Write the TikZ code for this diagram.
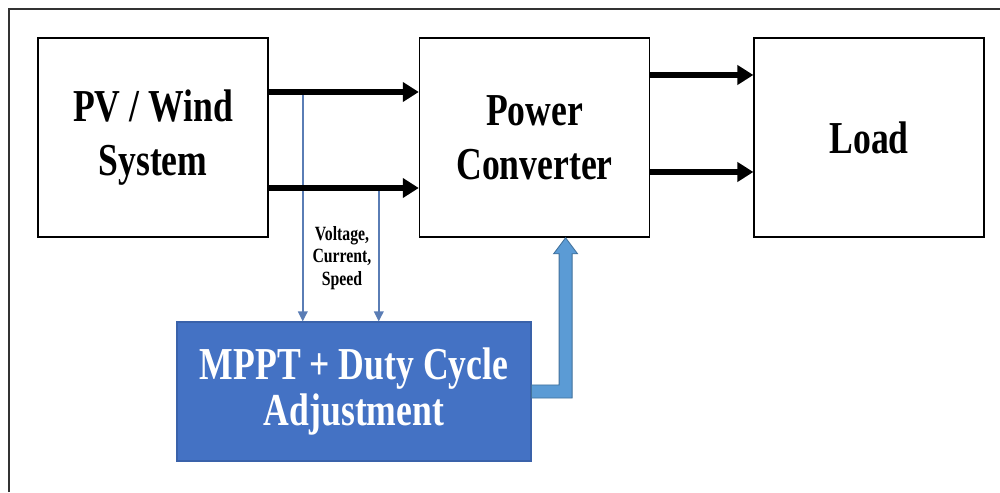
\documentclass[tikz,border=0pt]{standalone}
\usepackage{fontspec}
\setmainfont{Liberation Serif}[FakeStretch=0.78]
\usetikzlibrary{arrows.meta, positioning, calc}
\definecolor{mpptBlue}{HTML}{4472C4}
\definecolor{mpptEdge}{HTML}{3A62AA}
\definecolor{tapBlue}{HTML}{5A7DB5}
\definecolor{feedFill}{HTML}{5B9BD5}
\definecolor{feedEdge}{HTML}{41719C}
\definecolor{frameGray}{HTML}{333333}
\tikzset{
  block/.style={draw=black, line width=0.9pt, fill=white, align=center,
               minimum width=4.6cm, minimum height=3.98cm, font=\fontsize{26}{30.6}\selectfont\bfseries},
  ctrl/.style={draw=mpptEdge, line width=0.6pt, fill=mpptBlue, text=white, align=center,
               minimum width=7.08cm, minimum height=2.78cm, font=\fontsize{26}{26.7}\selectfont\bfseries},
  power/.style={-{Triangle[length=0.32cm, width=0.38cm]}, line width=3.3pt},
  sense/.style={-{Triangle[length=0.2cm, width=0.19cm]}, line width=0.9pt, color=tapBlue},
}
\begin{document}
\begin{tikzpicture}
\useasboundingbox (0,0) rectangle (20,9.84);
\draw[color=frameGray, line width=0.6pt] (0.18,0) -- (0.18,9.66) -- (20,9.66);
\node[block] (pv) at (3.06,7.09) {PV / Wind\\System};
\node[block, right=3.0cm of pv] (pc) {Power\\Converter};
\node[block, right=2.06cm of pc] (load) {Load};
\node[ctrl] (mppt) at (7.08,2.01) {MPPT + Duty Cycle\\Adjustment};
% measured signals
\coordinate (tapA) at ([xshift=0.68cm, yshift=0.91cm]pv.east);
\coordinate (tapB) at ([xshift=2.2cm, yshift=-1.01cm]pv.east);
\draw[sense] (tapA) -- (tapA |- mppt.north);
\draw[sense] (tapB) -- (tapB |- mppt.north);
\node[font=\fontsize{11.5}{13}\selectfont\bfseries, align=center] (meas) at (6.84,4.68) {Voltage,\\Current,\\Speed};
% power flow
\draw[power] ([yshift=0.91cm]pv.east) -- ([yshift=0.91cm]pc.west);
\draw[power] ([yshift=-1.01cm]pv.east) -- ([yshift=-1.01cm]pc.west);
\draw[power] ([yshift=1.25cm]pc.east) -- ([yshift=1.25cm]load.west);
\draw[power] ([yshift=-0.69cm]pc.east) -- ([yshift=-0.69cm]load.west);
% duty cycle feedback
\coordinate (bend) at ([xshift=0.62cm]pc.south |- mppt.east);
\coordinate (tip) at (bend |- pc.south);
\filldraw[fill=feedFill, draw=feedEdge, line width=0.5pt]
  ($(mppt.east)+(0,0.13)$) -- ($(bend)+(-0.13,0.13)$) -- ($(tip)+(-0.13,-0.32)$)
  -- ($(tip)+(-0.24,-0.32)$) -- (tip) -- ($(tip)+(0.24,-0.32)$) -- ($(tip)+(0.13,-0.32)$)
  -- ($(bend)+(0.13,-0.13)$) -- ($(mppt.east)+(0,-0.13)$) -- cycle;
\end{tikzpicture}
\end{document}
